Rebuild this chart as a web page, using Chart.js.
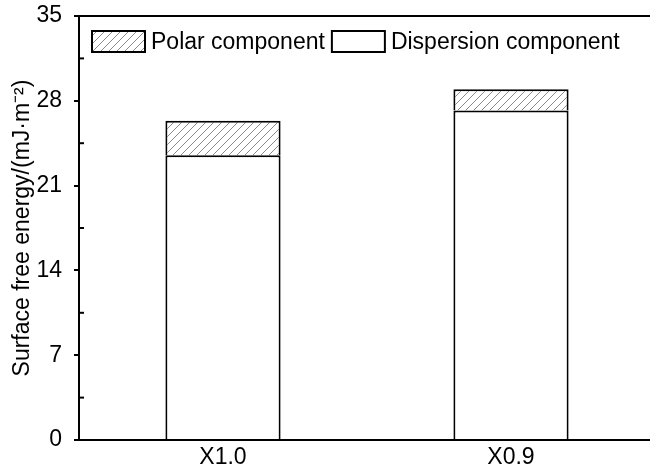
<!DOCTYPE html>
<html>
<head>
<meta charset="utf-8">
<script src="https://cdn.jsdelivr.net/npm/chart.js@4"></script>
<style>
body { margin: 0; overflow: hidden; background: #fff; }
#wrap { width: 660px; height: 472px; }
</style>
</head>
<body>
<div id="wrap"><canvas id="grafico" width="660" height="472"></canvas></div>
<script>
const amostras = ['X1.0', 'X0.9']
const dispersao = [23.5, 27.2]
const polar = [2.85, 1.75]
const ticksY = [0, 7, 14, 21, 28, 35]
const ticksMenores = [3.5, 10.5, 17.5, 24.5, 31.5]
const legendas = ['Polar component', 'Dispersion component']

const fonte = "'Liberation Sans', Arial, sans-serif"

// hachura diagonal para a componente polar
function hachura() {
  const c = document.createElement('canvas')
  c.width = 8
  c.height = 8
  const g = c.getContext('2d')
  g.fillStyle = '#fff'
  g.fillRect(0, 0, 8, 8)
  g.strokeStyle = '#8a8a8a'
  g.lineWidth = 1
  g.beginPath()
  g.moveTo(0, 8); g.lineTo(8, 0)
  g.moveTo(-2, 2); g.lineTo(2, -2)
  g.moveTo(6, 10); g.lineTo(10, 6)
  g.stroke()
  return g.createPattern(c, 'repeat')
}
const padrao = hachura()

const extras = {
  id: 'extras',
  afterDraw(chart) {
    const ctx = chart.ctx
    const a = chart.chartArea
    const y = chart.scales.y
    ctx.save()
    ctx.strokeStyle = '#000'
    ctx.lineWidth = 2
    // linha de cima
    ctx.beginPath()
    ctx.moveTo(a.left - 1, a.top)
    ctx.lineTo(a.right, a.top)
    ctx.stroke()
    // ticks menores para dentro
    ticksMenores.forEach(v => {
      const py = y.getPixelForValue(v)
      ctx.beginPath()
      ctx.moveTo(a.left, py)
      ctx.lineTo(a.left + 5, py)
      ctx.stroke()
    })
    // legenda
    ctx.font = '23px ' + fonte
    ctx.textBaseline = 'alphabetic'
    let x = a.left + 13
    const topo = a.top + 15
    const estilos = [padrao, '#fff']
    legendas.forEach((t, i) => {
      ctx.fillStyle = estilos[i]
      ctx.fillRect(x, topo, 53, 21)
      ctx.strokeRect(x, topo, 53, 21)
      ctx.fillStyle = '#000'
      ctx.fillText(t, x + 59, topo + 18)
      x = x + 59 + ctx.measureText(t).width + 7
    })
    ctx.restore()
  }
}

const ctx = document.getElementById('grafico')

new Chart(ctx, {
  type: 'bar',
  data: {
    labels: amostras,
    datasets: [{
      label: legendas[1],
      data: dispersao,
      backgroundColor: '#fff',
      borderColor: '#000',
      borderWidth: 2,
      borderSkipped: 'bottom'
    }, {
      label: legendas[0],
      data: polar,
      backgroundColor: padrao,
      borderColor: '#000',
      borderWidth: 2,
      borderSkipped: 'bottom'
    }]
  },
  options: {
    responsive: false,
    animation: false,
    layout: { padding: { top: 16, right: 5, left: 0, bottom: 0 } },
    datasets: { bar: { barPercentage: 1, categoryPercentage: 0.4 } },
    plugins: { legend: { display: false }, tooltip: { enabled: false } },
    scales: {
      x: {
        stacked: true,
        grid: { display: false, drawTicks: false, tickLength: 0 },
        border: { color: '#000', width: 2 },
        ticks: { color: '#000', font: { family: fonte, size: 23 }, padding: 4 },
        afterFit: s => { s.height = 32; s.paddingLeft = 0; s.paddingRight = 0 }
      },
      y: {
        stacked: true,
        min: 0,
        max: 35,
        afterBuildTicks: s => { s.ticks = ticksY.map(v => ({ value: v })) },
        grid: { drawOnChartArea: false, color: '#000', lineWidth: 2, tickLength: 5 },
        border: { color: '#000', width: 2 },
        ticks: { color: '#000', font: { family: fonte, size: 23 }, padding: 12 },
        title: {
          display: true,
          text: 'Surface free energy/(mJ\u00b7m\u207b\u00b2)',
          color: '#000',
          font: { family: fonte, size: 23 },
          padding: { top: 9, bottom: 0 }
        },
        afterFit: s => { s.width = 79; s.paddingTop = 0; s.paddingBottom = 0 }
      }
    }
  },
  plugins: [extras]
})
</script>
</body>
</html>
